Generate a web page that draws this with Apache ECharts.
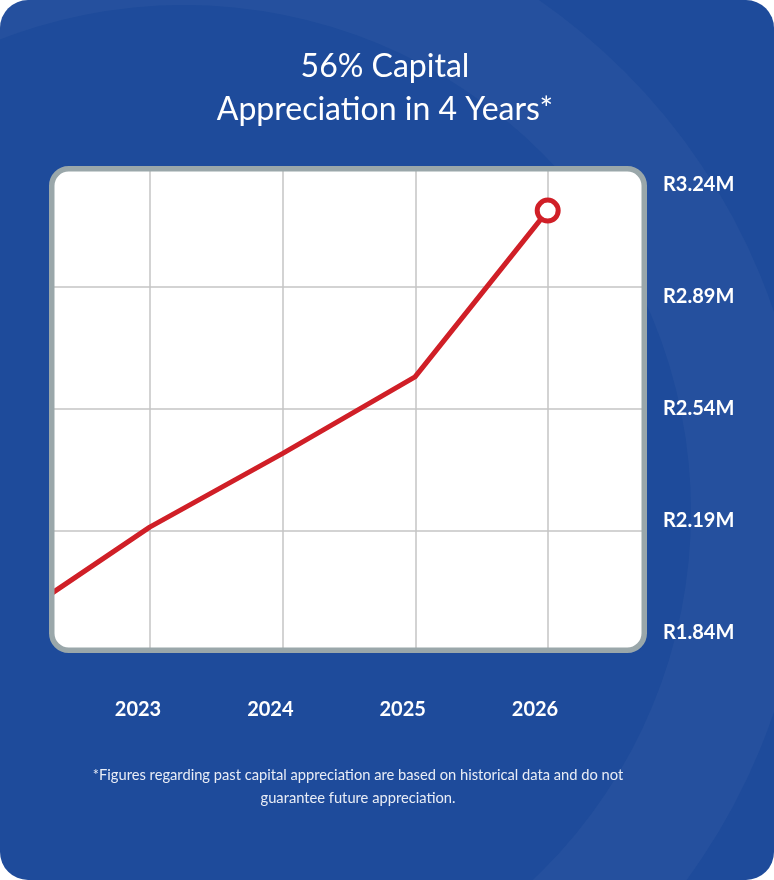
<!DOCTYPE html>
<html><head><meta charset="utf-8">
<script src="https://cdn.jsdelivr.net/npm/echarts@6/dist/echarts.min.js"></script>
<style>html,body{margin:0;padding:0;background:#fff}#c{width:774px;height:880px}</style>
</head><body><div id="c"></div>
<script>
// ---- data ----
const years = ['2023', '2024', '2025', '2026'];
const lineYears = [2022, 2023, 2024, 2025, 2026];
const lineValues = [1.89, 2.17, 2.40, 2.64, 3.16];
const yTicks = [1.84, 2.19, 2.54, 2.89, 3.24];
const titleLines = ['56% Capital', 'Appreciation in 4 Years*'];
const footnoteLines = [
  '*Figures regarding past capital appreciation are based on historical data and do not',
  'guarantee future appreciation.'
];

// ---- chart ----
const chart = echarts.init(document.getElementById('c'), null, {renderer: 'canvas', width: 774, height: 880});
const last = lineValues.length - 1;
const red = '#d01f27';
const gridColor = '#c4c4c4';
const font = 'Lato';

const option = {
  animation: false,
  backgroundColor: 'transparent',
  textStyle: {fontFamily: font},
  title: [
    {
      text: titleLines.join('\n'), left: 385, top: 45, textAlign: 'center', padding: 0,
      textStyle: {color: '#ffffff', fontFamily: font, fontWeight: 'normal', fontSize: 32, lineHeight: 43}
    },
    {
      text: footnoteLines.join('\n'), left: 358, top: 764, textAlign: 'center', padding: 0,
      textStyle: {color: '#e9edf6', fontFamily: font, fontWeight: 'normal', fontSize: 14.7, lineHeight: 23}
    }
  ],
  graphic: [
    {type: 'rect', silent: true, z: -20, shape: {x: 0, y: 0, width: 774, height: 880, r: 28}, style: {fill: '#1e4b9b'}},
    {type: 'ring', silent: true, z: -19, shape: {cx: 184, cy: 512, r: 623, r0: 507}, style: {fill: 'rgba(255,255,255,0.032)'}},
    {type: 'rect', silent: true, z: -10, shape: {x: 51.75, y: 168.75, width: 592.5, height: 481.5, r: 17}, style: {fill: '#ffffff'}},
    {type: 'rect', silent: true, z: 50, shape: {x: 51.75, y: 168.75, width: 592.5, height: 481.5, r: 17}, style: {fill: null, stroke: '#9aa7aa', lineWidth: 5.5}}
  ],
  grid: [
    {left: 52, top: 164.2, width: 592, height: 489},
    {left: 150, top: 169, width: 398, height: 480},
    {left: 55, top: 185, width: 591, height: 447.7},
    {left: 138, top: 164, width: 397, height: 489}
  ],
  xAxis: [
    {gridIndex: 0, type: 'value', min: 0, max: 1, show: false},
    {gridIndex: 1, type: 'category', data: years, boundaryGap: false,
      axisLine: {show: false}, axisTick: {show: false}, axisLabel: {show: false},
      splitLine: {show: true, lineStyle: {color: gridColor, width: 1.5}}},
    {gridIndex: 2, type: 'value', min: 2022.286, max: 2026.741, show: false},
    {gridIndex: 3, type: 'category', data: years, boundaryGap: false,
      axisLine: {show: false}, axisTick: {show: false}, splitLine: {show: false},
      axisLabel: {color: '#ffffff', fontFamily: font, fontWeight: 'bold', fontSize: 20, margin: 47}}
  ],
  yAxis: [
    {gridIndex: 0, type: 'value', min: 0, max: 4, interval: 1,
      axisLine: {show: false}, axisTick: {show: false}, axisLabel: {show: false},
      splitLine: {show: true, showMinLine: false, showMaxLine: false, lineStyle: {color: gridColor, width: 1.5}}},
    {gridIndex: 1, type: 'value', show: false},
    {gridIndex: 2, type: 'value', position: 'right',
      min: yTicks[0], max: yTicks[yTicks.length - 1], interval: yTicks[1] - yTicks[0],
      axisLine: {show: false}, axisTick: {show: false}, splitLine: {show: false},
      axisLabel: {color: '#ffffff', fontFamily: font, fontWeight: 'bold', fontSize: 20, margin: 17,
        formatter: v => 'R' + v.toFixed(2) + 'M'}},
    {gridIndex: 3, type: 'value', show: false}
  ],
  series: [{
    type: 'line', xAxisIndex: 2, yAxisIndex: 2,
    data: lineYears.map((y, i) => [y, lineValues[i]]),
    clip: true,
    showSymbol: true,
    symbol: (v, p) => (p.dataIndex === last ? 'circle' : 'none'),
    symbolSize: 21,
    itemStyle: {color: '#ffffff', borderColor: red, borderWidth: 5},
    lineStyle: {color: red, width: 5},
    z: 5
  }]
};
chart.setOption(option);
</script>
</body></html>
